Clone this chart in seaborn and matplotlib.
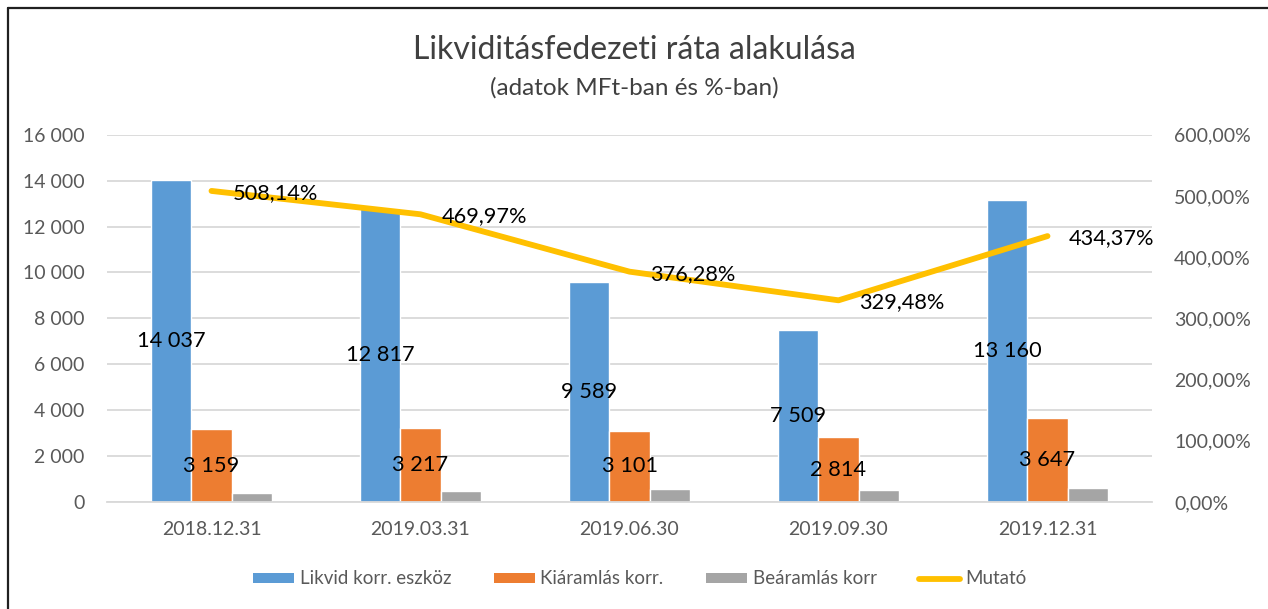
import numpy as np
import pandas as pd
import matplotlib
matplotlib.use("Agg")
import matplotlib.pyplot as plt
from matplotlib.lines import Line2D
from matplotlib.patches import Patch
from matplotlib.ticker import FuncFormatter, MultipleLocator
import seaborn as sns

# ---- data ----
categories = ["2018.12.31", "2019.03.31", "2019.06.30", "2019.09.30", "2019.12.31"]
likvid = [14037, 12817, 9589, 7509, 13160]
kiaramlas = [3159, 3217, 3101, 2814, 3647]
bearamlas = [397, 490, 553, 535, 617]
mutato = [508.14, 469.97, 376.28, 329.48, 434.37]
series_names = ["Likvid korr. eszköz", "Kiáramlás korr.", "Beáramlás korr"]
line_name = "Mutató"
title = "Likviditásfedezeti ráta alakulása"
subtitle = "(adatok MFt-ban és %-ban)"

colors = ["#5B9BD5", "#ED7D31", "#A5A5A5"]
line_color = "#FFC000"
grid_color = "#D9D9D9"
tick_color = "#595959"

sns.set_theme(style="white")
plt.rcParams["font.family"] = ["Lato", "DejaVu Sans"]

df = pd.DataFrame({
    "date": categories * 3,
    "value": likvid + kiaramlas + bearamlas,
    "series": [series_names[0]] * 5 + [series_names[1]] * 5 + [series_names[2]] * 5,
})

fig = plt.figure(figsize=(12.68, 6.09), dpi=100)
ax = fig.add_axes([107 / 1268, 1 - 502 / 609, (1152 - 107) / 1268, (502 - 134.7) / 609])

sns.barplot(data=df, x="date", y="value", hue="series", hue_order=series_names,
            palette=colors, width=0.575, saturation=1, ax=ax, legend=False,
            order=categories, errorbar=None)

ax.set_ylim(0, 16000)
ax.yaxis.set_major_locator(MultipleLocator(2000))
ax.yaxis.set_major_formatter(FuncFormatter(lambda v, p: f"{int(v):,}".replace(",", " ")))
ax.grid(axis="y", color=grid_color, linewidth=1.3)
ax.set_axisbelow(True)
for s in ["left", "right", "top"]:
    ax.spines[s].set_visible(False)
ax.spines["bottom"].set_color(grid_color)
ax.spines["bottom"].set_linewidth(1.3)
ax.tick_params(axis="both", length=0, colors=tick_color, labelsize=14)
ax.tick_params(axis="y", pad=16)
ax.tick_params(axis="x", pad=14)
ax.set_xlabel("")
ax.set_ylabel("")
ax.set_xlim(-0.5, 4.5)

# bar labels centered (blue and orange only, as in the reference)
for cont in ax.containers[:2]:
    labels = [f"{int(round(v)):,}".replace(",", " ") for v in cont.datavalues]
    ax.bar_label(cont, labels=labels, label_type="center", fontsize=15.7, color="black")

ax2 = ax.twinx()
sns.lineplot(x=categories, y=mutato, ax=ax2, color=line_color, linewidth=4.2,
             sort=False, solid_capstyle="round")
ax2.set_ylim(0, 600)
ax2.yaxis.set_major_locator(MultipleLocator(100))
ax2.yaxis.set_major_formatter(FuncFormatter(lambda v, p: f"{v:.2f}".replace(".", ",") + "%"))
for s in ["left", "right", "top", "bottom"]:
    ax2.spines[s].set_visible(False)
ax2.tick_params(axis="y", length=0, colors=tick_color, labelsize=14, pad=16)
ax2.set_ylabel("")
for i, v in enumerate(mutato):
    ax2.annotate(f"{v:.2f}".replace(".", ",") + "%", xy=(i, v), xytext=(21, -2),
                 textcoords="offset pixels", ha="left", va="center",
                 fontsize=15.7, color="black")

fig.text(0.5, 1 - 50 / 609, title, ha="center", va="center", fontsize=23, color="#404040")
fig.text(0.5, 1 - 88 / 609, subtitle, ha="center", va="center", fontsize=17.5, color="#404040")

handles = [Patch(facecolor=c, edgecolor="none") for c in colors] + \
          [Line2D([0], [0], color=line_color, linewidth=4.2, solid_capstyle="round")]
fig.legend(handles, series_names + [line_name], loc="center", ncol=4,
           bbox_to_anchor=(0.5 + 6 / 1268, 1 - 579 / 609), frameon=False, fontsize=13.5,
           handlelength=2.2, handleheight=0.45, handletextpad=0.3, columnspacing=2.25,
           labelcolor=tick_color)

fig.add_artist(Line2D([7.5 / 1268, 7.5 / 1268], [0, 1 - 8 / 609], transform=fig.transFigure,
                      color="#202020", linewidth=1.6))
fig.add_artist(Line2D([7.5 / 1268, 1], [1 - 8 / 609, 1 - 8 / 609], transform=fig.transFigure,
                      color="#202020", linewidth=1.6))

fig.savefig("out.png", dpi=100)
